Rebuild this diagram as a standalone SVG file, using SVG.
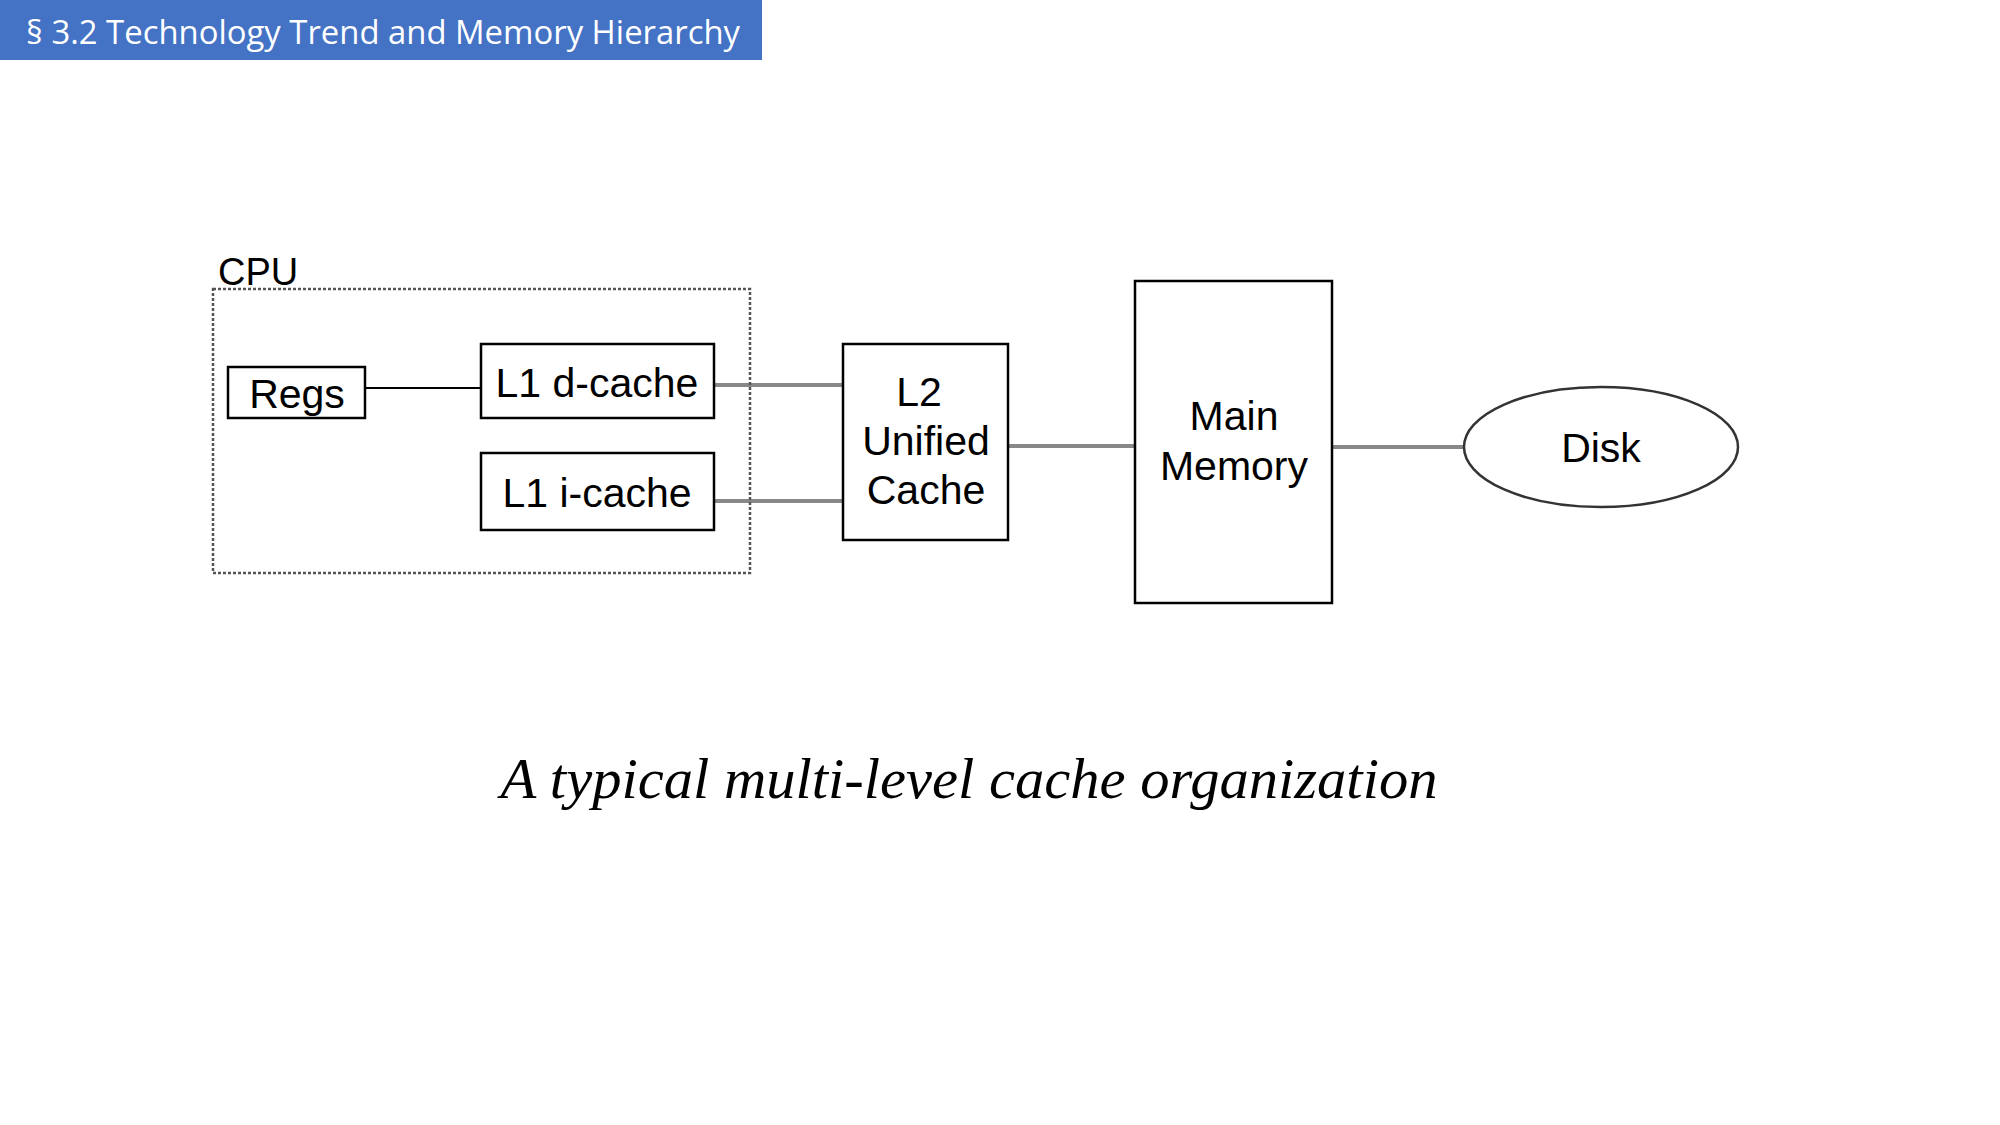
<svg xmlns="http://www.w3.org/2000/svg" width="2000" height="1125" viewBox="0 0 2000 1125">
<style>
.t{font-family:"Liberation Sans",Arial,sans-serif;font-size:41px;fill:#000;text-anchor:middle}
.b{fill:#fff;stroke:#000;stroke-width:2.5}
.g{stroke:#888;stroke-width:4;fill:none}
</style>
<rect width="2000" height="1125" fill="#fff"/>
<g id="title"><rect x="0" y="0" width="762" height="60" fill="#4472C4"/>
<text x="26" y="44" font-family="Open Sans,sans-serif" font-size="32" fill="#fff" textLength="714" lengthAdjust="spacingAndGlyphs">§ 3.2 Technology Trend and Memory Hierarchy</text></g>
<g id="connectors">
<line x1="365" y1="388" x2="481" y2="388" stroke="#000" stroke-width="2"/>
<line x1="714" y1="385" x2="843" y2="385" class="g"/>
<line x1="714" y1="501" x2="843" y2="501" class="g"/>
<line x1="1008" y1="446" x2="1135" y2="446" class="g"/>
<line x1="1332" y1="447" x2="1464" y2="447" class="g"/>
</g>
<g id="cpu"><rect x="213" y="289" width="537" height="284" fill="none" stroke="#555" stroke-width="2.5" stroke-dasharray="3,2"/>
<text x="218" y="285" font-family="Liberation Sans,sans-serif" font-size="38">CPU</text></g>
<g id="regs"><rect class="b" x="228" y="367" width="137" height="51"/><text class="t" x="297" y="408">Regs</text></g>
<g id="l1d"><rect class="b" x="481" y="344" width="233" height="74"/><text class="t" x="597" y="397">L1 d-cache</text></g>
<g id="l1i"><rect class="b" x="481" y="453" width="233" height="77"/><text class="t" x="597" y="507">L1 i-cache</text></g>
<g id="l2"><rect class="b" x="843" y="344" width="165" height="196"/>
<text class="t" x="919" y="406">L2</text><text class="t" x="926" y="455">Unified</text><text class="t" x="926" y="504">Cache</text></g>
<g id="mm"><rect class="b" x="1135" y="281" width="197" height="322"/>
<text class="t" x="1234" y="430">Main</text><text class="t" x="1234" y="480">Memory</text></g>
<g id="disk"><ellipse cx="1601" cy="447" rx="137" ry="60" fill="#fff" stroke="#333" stroke-width="2.5"/><text class="t" x="1601" y="462">Disk</text></g>
<text x="969" y="798" font-family="Liberation Serif,serif" font-style="italic" font-size="56" text-anchor="middle" textLength="937" lengthAdjust="spacingAndGlyphs">A typical multi-level cache organization</text>
</svg>
